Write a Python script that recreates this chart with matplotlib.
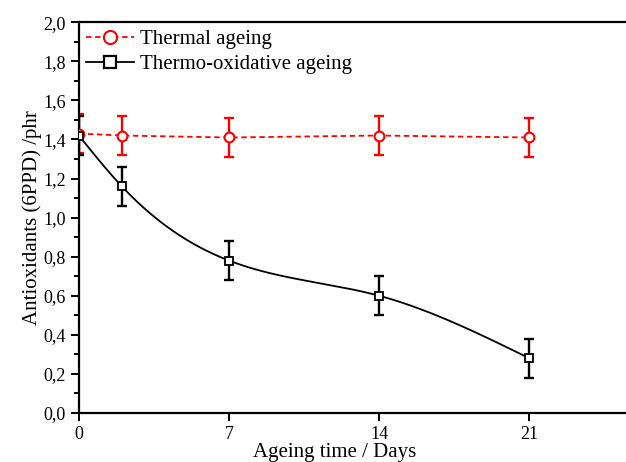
import numpy as np
import matplotlib
matplotlib.use("Agg")
import matplotlib.pyplot as plt
from matplotlib.ticker import MultipleLocator, FuncFormatter

# data
days = [0, 2, 7, 14, 21]
thermal = [1.43, 1.42, 1.41, 1.42, 1.41]
thermal_err = [0.10, 0.10, 0.10, 0.10, 0.10]
thermo_ox = [1.42, 1.16, 0.78, 0.60, 0.28]
thermo_ox_err = [0.10, 0.10, 0.10, 0.10, 0.10]
x_ticks = [0, 7, 14, 21]


def natural_spline(x, y, n=300):
    """Smooth connecting curve through the points (natural cubic spline)."""
    x = np.asarray(x, float)
    y = np.asarray(y, float)
    h = np.diff(x)
    k = len(x)
    A = np.zeros((k, k))
    b = np.zeros(k)
    A[0, 0] = A[-1, -1] = 1
    for i in range(1, k - 1):
        A[i, i - 1] = h[i - 1]
        A[i, i] = 2 * (h[i - 1] + h[i])
        A[i, i + 1] = h[i]
        b[i] = 6 * ((y[i + 1] - y[i]) / h[i] - (y[i] - y[i - 1]) / h[i - 1])
    m = np.linalg.solve(A, b)
    xs = np.linspace(x[0], x[-1], n)
    idx = np.clip(np.searchsorted(x, xs) - 1, 0, k - 2)
    x0, x1 = x[idx], x[idx + 1]
    hh = x1 - x0
    t0, t1 = x1 - xs, xs - x0
    ys = (m[idx] * t0 ** 3 + m[idx + 1] * t1 ** 3) / (6 * hh) \
        + (y[idx] / hh - m[idx] * hh / 6) * t0 \
        + (y[idx + 1] / hh - m[idx + 1] * hh / 6) * t1
    return xs, ys


plt.rcParams["font.family"] = ["Liberation Serif", "DejaVu Serif"]

fig = plt.figure(figsize=(6.26, 4.62), dpi=100)
ax = fig.add_axes([0.126, 0.106, 0.874, 0.846])

# thermal ageing: dashed red, open circles
ax.errorbar(days, thermal, yerr=thermal_err, fmt="none", ecolor="red",
            elinewidth=1.7, capsize=3.5, capthick=1.7, zorder=2)
ax.plot(days, thermal, color="red", linestyle=(0, (3, 2)), linewidth=1.3,
        marker="o", markersize=7, markerfacecolor="white",
        markeredgecolor="red", markeredgewidth=1.5, zorder=3,
        label="Thermal ageing")

# thermo-oxidative ageing: smooth black curve, open squares
xs, ys = natural_spline(days, thermo_ox)
ax.plot(xs, ys, color="black", linewidth=1.3, zorder=3)
ax.errorbar(days, thermo_ox, yerr=thermo_ox_err, fmt="none", ecolor="black",
            elinewidth=1.7, capsize=3.5, capthick=1.7, zorder=2)
ax.plot(days, thermo_ox, linestyle="none", marker="s", markersize=6,
        markerfacecolor="white", markeredgecolor="black",
        markeredgewidth=1.3, zorder=4)
ax.plot([], [], color="black", linewidth=1.3, marker="s", markersize=6,
        markerfacecolor="white", markeredgecolor="black",
        markeredgewidth=1.6, label="Thermo-oxidative ageing")

ax.set_xlim(0, 25.5)
ax.set_ylim(0, 2.0)
ax.set_xticks(x_ticks)
ax.yaxis.set_major_locator(MultipleLocator(0.2))
ax.yaxis.set_minor_locator(MultipleLocator(0.1))
ax.yaxis.set_major_formatter(FuncFormatter(lambda v, p: f"{v:.1f}".replace(".", ",")))

for side in ["left", "bottom", "top"]:
    ax.spines[side].set_linewidth(1.6)
ax.spines["right"].set_visible(False)
ax.tick_params(axis="both", which="major", direction="out", length=6,
               width=1.4, labelsize=13, top=False, right=False)
ax.tick_params(axis="y", which="minor", direction="out", length=3.5, width=1.4)

ax.set_xlabel("Ageing time / Days", fontsize=15)
ax.xaxis.set_label_coords(0.468, -0.077)
ax.set_ylabel("Antioxidants (6PPD) /phr", fontsize=15, labelpad=1)

ax.legend(loc="upper left", frameon=False, fontsize=15, handlelength=2.3,
          handletextpad=0.3, borderpad=0.2, borderaxespad=0.15,
          labelspacing=0.28, markerscale=1.35)

fig.savefig("out.png", dpi=100)
